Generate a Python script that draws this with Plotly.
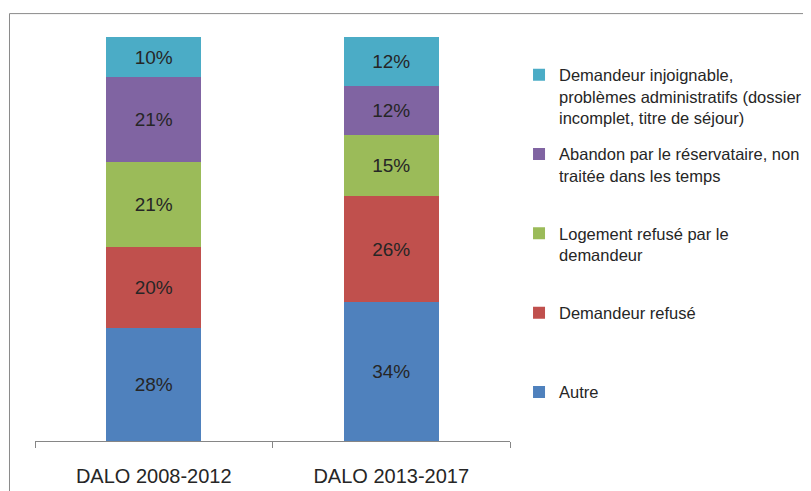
import plotly.graph_objects as go

categories = ["DALO 2008-2012", "DALO 2013-2017"]
series_names = [
    "Autre",
    "Demandeur refusé",
    "Logement refusé par le<br>demandeur",
    "Abandon par le réservataire, non<br>traitée dans les temps",
    "Demandeur injoignable,<br>problèmes administratifs (dossier<br>incomplet, titre de séjour)",
]
autre = [28, 34]
demandeur_refuse = [20, 26]
logement_refuse = [21, 15]
abandon = [21, 12]
injoignable = [10, 12]
series_values = [autre, demandeur_refuse, logement_refuse, abandon, injoignable]
colors = ["#4F81BD", "#C0504D", "#9BBB59", "#8064A2", "#4BACC6"]

FONT = "Liberation Sans, Arial, sans-serif"

fig = go.Figure()
n = len(series_names)
for i, (name, vals, col) in enumerate(zip(series_names, series_values, colors)):
    nlines = name.count("<br>") + 1
    padded = name + "<br>\u00a0" * (3 - nlines)
    fig.add_trace(go.Bar(
        x=categories, y=vals, name=padded, legendgroup=f"g{i}", legendrank=n - i,
        marker=dict(color=col, line=dict(width=0)),
        text=[f"{v}%" for v in vals], textposition="inside",
        insidetextanchor="middle", textangle=0,
        insidetextfont=dict(family=FONT, size=19, color="#262626"),
        hoverinfo="skip",
    ))

fig.update_layout(
    width=811, height=491,
    barmode="stack", barnorm="percent", bargap=0.6,
    paper_bgcolor="white", plot_bgcolor="white",
    margin=dict(l=27, r=309, t=29, b=56),
    font=dict(family=FONT, color="#262626"),
    showlegend=True,
    legend=dict(
        x=1.019, xanchor="left", y=0.9495, yanchor="top",
        traceorder="grouped", tracegroupgap=12, valign="top",
        font=dict(family=FONT, size=16.5, color="#262626"),
        itemwidth=30, bgcolor="rgba(0,0,0,0)",
    ),
    xaxis=dict(
        showline=True, linecolor="#868686", linewidth=1,
        ticks="outside", tickson="boundaries", ticklen=6, tickcolor="#868686",
        ticklabelstandoff=17,
        tickfont=dict(family=FONT, size=20, color="#262626"),
        showgrid=False, zeroline=False, fixedrange=True,
    ),
    yaxis=dict(visible=False, range=[0, 100], fixedrange=True),
    shapes=[dict(
        type="rect", xref="paper", yref="paper",
        x0=-0.0537, x1=1.8, y0=-0.3, y1=1.0579,
        line=dict(color="#8a8a8a", width=1), fillcolor="rgba(0,0,0,0)", layer="below",
    )],
)

fig.write_html("out.html")
